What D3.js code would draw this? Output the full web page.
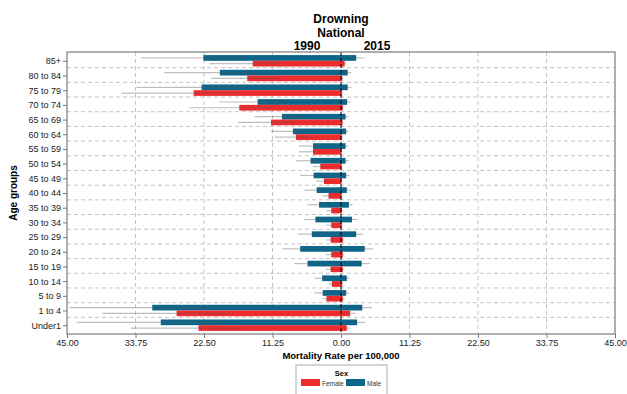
<!DOCTYPE html>
<html>
<head>
<meta charset="utf-8">
<script src="https://cdn.jsdelivr.net/npm/d3@7"></script>
<style>
  body { margin: 0; background: #fff; }
  svg { display: block; font-family: "Liberation Sans", Arial, sans-serif; }
</style>
</head>
<body>
<svg id="chart" width="627" height="394"></svg>
<script>
// age groups, top to bottom
const ageGroups = ['85+', '80 to 84', '75 to 79', '70 to 74', '65 to 69', '60 to 64', '55 to 59',
  '50 to 54', '45 to 49', '40 to 44', '35 to 39', '30 to 34', '25 to 29', '20 to 24',
  '15 to 19', '10 to 14', '5 to 9', '1 to 4', 'Under1'];

// 1990 rates (drawn to the left)
const male1990 = [22.6, 19.9, 22.9, 13.7, 9.7, 7.9, 4.6, 5.0, 4.5, 4.0, 3.6, 4.2, 4.8, 6.7, 5.5, 3.1, 3.0, 31.0, 29.6];
const male1990Lo = [15.6, 13.7, 15.7, 9.4, 6.7, 5.5, 3.3, 3.5, 3.0, 2.7, 2.4, 2.7, 3.3, 4.6, 3.8, 2.2, 2.2, 21.3, 20.3];
const male1990Hi = [32.8, 29.0, 33.6, 20.0, 14.2, 11.5, 6.9, 7.4, 6.7, 6.0, 5.5, 6.1, 7.1, 9.7, 7.7, 4.35, 4.35, 44.6, 43.4];
const female1990 = [14.5, 15.4, 24.2, 16.7, 11.5, 7.4, 4.6, 3.4, 2.8, 2.05, 1.6, 1.6, 1.7, 1.6, 1.7, 1.5, 2.4, 27.0, 23.4];
const female1990Lo = [9.7, 10.4, 16.2, 11.3, 7.6, 4.9, 3.3, 2.4, 1.9, 1.35, 1.1, 1.1, 1.1, 1.0, 1.1, 1.1, 1.6, 18.2, 16.0];
const female1990Hi = [21.6, 21.3, 36.1, 24.9, 16.9, 10.9, 6.9, 4.6, 4.1, 3.0, 2.4, 2.4, 2.4, 2.5, 2.5, 2.0, 3.0, 39.2, 34.5];

// 2015 rates (drawn to the right)
const male2015 = [2.5, 1.1, 1.1, 1.0, 0.75, 0.85, 0.75, 0.75, 0.85, 0.95, 1.3, 1.8, 2.5, 3.9, 3.4, 0.95, 0.85, 3.5, 2.65];
const male2015Lo = [1.5, 0.7, 0.7, 0.6, 0.5, 0.5, 0.5, 0.5, 0.55, 0.6, 0.8, 1.1, 1.7, 2.8, 2.2, 0.6, 0.55, 2.5, 1.7];
const male2015Hi = [3.7, 1.7, 1.7, 1.5, 1.2, 1.2, 1.2, 1.3, 1.4, 1.6, 1.9, 2.7, 3.6, 5.3, 4.8, 1.4, 1.3, 5.1, 4.0];
const female2015 = [0.6, 0.2, 0.15, 0.3, 0.25, 0.15, 0.1, 0.1, 0.1, 0.1, 0.15, 0.15, 0.3, 0.3, 0.3, 0.2, 0.3, 1.5, 0.95];
const female2015Lo = [0.4, 0.1, 0.1, 0.2, 0.15, 0.1, 0.05, 0.05, 0.05, 0.05, 0.1, 0.1, 0.2, 0.2, 0.2, 0.1, 0.2, 1.0, 0.6];
const female2015Hi = [0.9, 0.35, 0.3, 0.5, 0.4, 0.3, 0.2, 0.2, 0.2, 0.2, 0.25, 0.25, 0.5, 0.5, 0.5, 0.35, 0.5, 2.4, 1.5];

const xTicks = [-45, -33.75, -22.5, -11.25, 0, 11.25, 22.5, 33.75, 45];
const sexes = ['Female', 'Male'];

const colorMale = '#0d6689';
const colorFemale = '#ee2c2e';

const margin = { top: 52, right: 12, bottom: 60, left: 67 };
const width = 627 - margin.left - margin.right;
const height = 394 - margin.top - margin.bottom;

const svg = d3.select('#chart');
const g = svg.append('g').attr('transform', `translate(${margin.left},${margin.top})`);

const x = d3.scaleLinear().domain([-45, 45]).range([0, width]);
const y = d3.scalePoint().domain(ageGroups).range([0, height]).padding(0.6);
const step = y.step();
const barH = step * 0.39;

// flatten rows: 1990 values negative (left), 2015 positive (right)
const rows = [];
ageGroups.forEach((a, i) => {
  rows.push({ age: a, sex: 'Male', v: -male1990[i], lo: -male1990Lo[i], hi: -male1990Hi[i] });
  rows.push({ age: a, sex: 'Female', v: -female1990[i], lo: -female1990Lo[i], hi: -female1990Hi[i] });
  rows.push({ age: a, sex: 'Male', v: male2015[i], lo: male2015Lo[i], hi: male2015Hi[i] });
  rows.push({ age: a, sex: 'Female', v: female2015[i], lo: female2015Lo[i], hi: female2015Hi[i] });
});
const yBar = d => d.sex === 'Male' ? y(d.age) - barH : y(d.age);

// grid
g.selectAll('.vgrid')
  .data(xTicks.filter(t => t !== 0 && Math.abs(t) !== 45))
  .enter().append('line')
  .attr('x1', d => x(d)).attr('x2', d => x(d))
  .attr('y1', 0).attr('y2', height)
  .attr('stroke', '#c4c4c4').attr('stroke-dasharray', '4,3');

g.selectAll('.hgrid')
  .data(ageGroups.slice(1))
  .enter().append('line')
  .attr('x1', 0).attr('x2', width)
  .attr('y1', d => y(d) - step / 2 - 0.5).attr('y2', d => y(d) - step / 2 - 0.5)
  .attr('stroke', '#c4c4c4').attr('stroke-dasharray', '4,3');

// bars
g.selectAll('.bar')
  .data(rows)
  .enter().append('rect')
  .attr('x', d => x(Math.min(0, d.v)))
  .attr('width', d => Math.abs(x(d.v) - x(0)))
  .attr('y', yBar)
  .attr('height', barH)
  .attr('fill', d => d.sex === 'Male' ? colorMale : colorFemale);

// uncertainty intervals
g.selectAll('.ci')
  .data(rows)
  .enter().append('line')
  .attr('x1', d => x(d.lo)).attr('x2', d => x(d.hi))
  .attr('y1', d => yBar(d) + barH / 2).attr('y2', d => yBar(d) + barH / 2)
  .attr('stroke', '#555').attr('stroke-opacity', 0.38).attr('stroke-width', 1.2);

// zero line
g.append('line')
  .attr('x1', x(0)).attr('x2', x(0)).attr('y1', 0).attr('y2', height)
  .attr('stroke', '#000').attr('stroke-width', 1).attr('stroke-dasharray', '4,2');

// frame
g.append('rect')
  .attr('width', width).attr('height', height)
  .attr('fill', 'none').attr('stroke', '#7a7a7a').attr('stroke-width', 1.2);

// axes
const xAxis = g.append('g')
  .attr('transform', `translate(0,${height})`)
  .call(d3.axisBottom(x).tickValues(xTicks).tickSize(4).tickPadding(2)
    .tickFormat(d => Math.abs(d).toFixed(2)));
xAxis.select('.domain').remove();
xAxis.selectAll('line').attr('stroke', '#7a7a7a');
xAxis.selectAll('text').attr('font-size', 9).attr('fill', '#222')
  .style('font-family', '"Liberation Sans", Arial, sans-serif');

const yAxis = g.append('g')
  .call(d3.axisLeft(y).tickSize(4).tickPadding(2));
yAxis.select('.domain').remove();
yAxis.selectAll('line').attr('stroke', '#7a7a7a');
yAxis.selectAll('text').attr('font-size', 9).attr('fill', '#222')
  .style('font-family', '"Liberation Sans", Arial, sans-serif');

// titles
const cx = margin.left + x(0);
svg.append('text').attr('x', cx).attr('y', 23).attr('text-anchor', 'middle')
  .attr('font-size', 12).attr('font-weight', 'bold').text('Drowning');
svg.append('text').attr('x', cx).attr('y', 37).attr('text-anchor', 'middle')
  .attr('font-size', 12).attr('font-weight', 'bold').text('National');
svg.append('text').attr('x', 307).attr('y', 50).attr('text-anchor', 'middle')
  .attr('font-size', 12).attr('font-weight', 'bold').text('1990');
svg.append('text').attr('x', 377).attr('y', 50).attr('text-anchor', 'middle')
  .attr('font-size', 12).attr('font-weight', 'bold').text('2015');

svg.append('text').attr('x', cx).attr('y', 359).attr('text-anchor', 'middle')
  .attr('font-size', 9.5).attr('font-weight', 'bold').text('Mortality Rate per 100,000');

svg.append('text')
  .attr('transform', `translate(17,${margin.top + height / 2}) rotate(-90)`)
  .attr('text-anchor', 'middle')
  .attr('font-size', 10).attr('font-weight', 'bold').text('Age groups');

// legend
const legend = svg.append('g').attr('transform', 'translate(296,365)');
legend.append('rect').attr('width', 91).attr('height', 34)
  .attr('fill', '#fff').attr('stroke', '#aaa');
legend.append('text').attr('x', 45.5).attr('y', 11).attr('text-anchor', 'middle')
  .attr('font-size', 7.5).attr('font-weight', 'bold').text('Sex');
const items = legend.selectAll('.item')
  .data(sexes)
  .enter().append('g')
  .attr('transform', (d, i) => `translate(${5 + i * 45},14)`);
items.append('rect').attr('width', 19).attr('height', 7)
  .attr('fill', d => d === 'Male' ? colorMale : colorFemale);
items.append('text').attr('x', 21).attr('y', 6.5)
  .attr('font-size', 6.5).attr('fill', '#333').text(d => d);
</script>
</body>
</html>
